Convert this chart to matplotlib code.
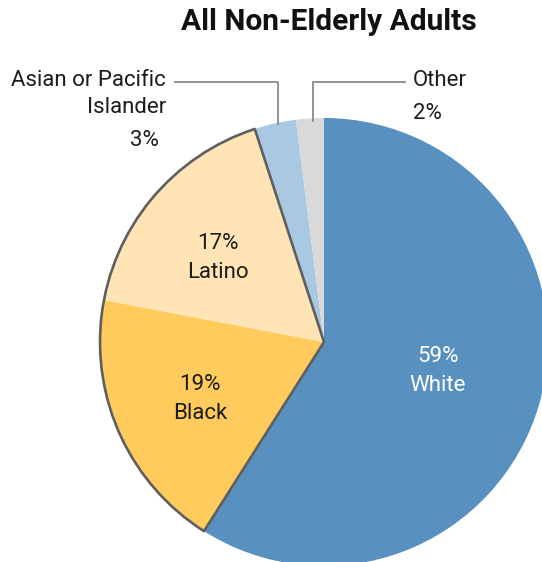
import matplotlib
matplotlib.use("Agg")
import matplotlib.pyplot as plt
from matplotlib import font_manager
from matplotlib.patches import Wedge

groups = ["White", "Black", "Latino", "Asian or Pacific\nIslander", "Other"]
shares = [59, 19, 17, 3, 2]
colors = ["#5890c0", "#ffcb5c", "#ffe4b6", "#a9c9e3", "#d9d9d9"]
title = "All Non-Elderly Adults"

available = {f.name for f in font_manager.fontManager.ttflist}
family = "Liberation Sans Narrow" if "Liberation Sans Narrow" in available else "Roboto"
plt.rcParams["font.family"] = [family, "DejaVu Sans"]

W, H = 542, 562
fig = plt.figure(figsize=(W / 100, H / 100), dpi=100)
ax = fig.add_axes([0, 0, 1, 1])

cx, cy, r = 324, H - 342, 224
wedges, _ = ax.pie(shares, colors=colors, startangle=90, counterclock=False,
                   center=(cx, cy), radius=r, wedgeprops=dict(linewidth=0))
ax.set_xlim(0, W)
ax.set_ylim(0, H)
ax.set_aspect("equal")
ax.axis("off")

# outline around Black + Latino block
th1 = wedges[2].theta1
th2 = wedges[1].theta2
ax.add_patch(Wedge((cx, cy), r, th1, th2, fill=False, edgecolor="#5f5f5f",
                   linewidth=1.9, joinstyle="round"))

ax.text(329, H - 22, title, ha="center", va="center", fontsize=21.5,
        fontweight="bold", color="#111111")

txt = "#1c1c1c"
fs = 16
ax.text(218, H - 258, "17%\nLatino", ha="center", va="center", fontsize=fs,
        color=txt, linespacing=1.5)
ax.text(200, H - 399, "19%\nBlack", ha="center", va="center", fontsize=fs,
        color=txt, linespacing=1.5)
ax.text(438, H - 371, "59%\nWhite", ha="center", va="center", fontsize=fs,
        color="white", linespacing=1.5)

ax.text(166, H - 94, groups[3], ha="right", va="center", fontsize=fs,
        color=txt, linespacing=1.4)
ax.text(159, H - 141, f"{shares[3]}%", ha="right", va="center", fontsize=fs,
        color=txt)
ax.text(413, H - 97, f"{groups[4]}\n{shares[4]}%", ha="left", va="center",
        fontsize=fs, color=txt, linespacing=1.8)

lc = "#8a8a8a"
ax.plot([175, 278, 278], [H - 82, H - 82, H - 124], color=lc, lw=1.3)
ax.plot([405, 313, 313], [H - 82, H - 82, H - 121], color=lc, lw=1.3)

fig.savefig("out.png", dpi=100)
